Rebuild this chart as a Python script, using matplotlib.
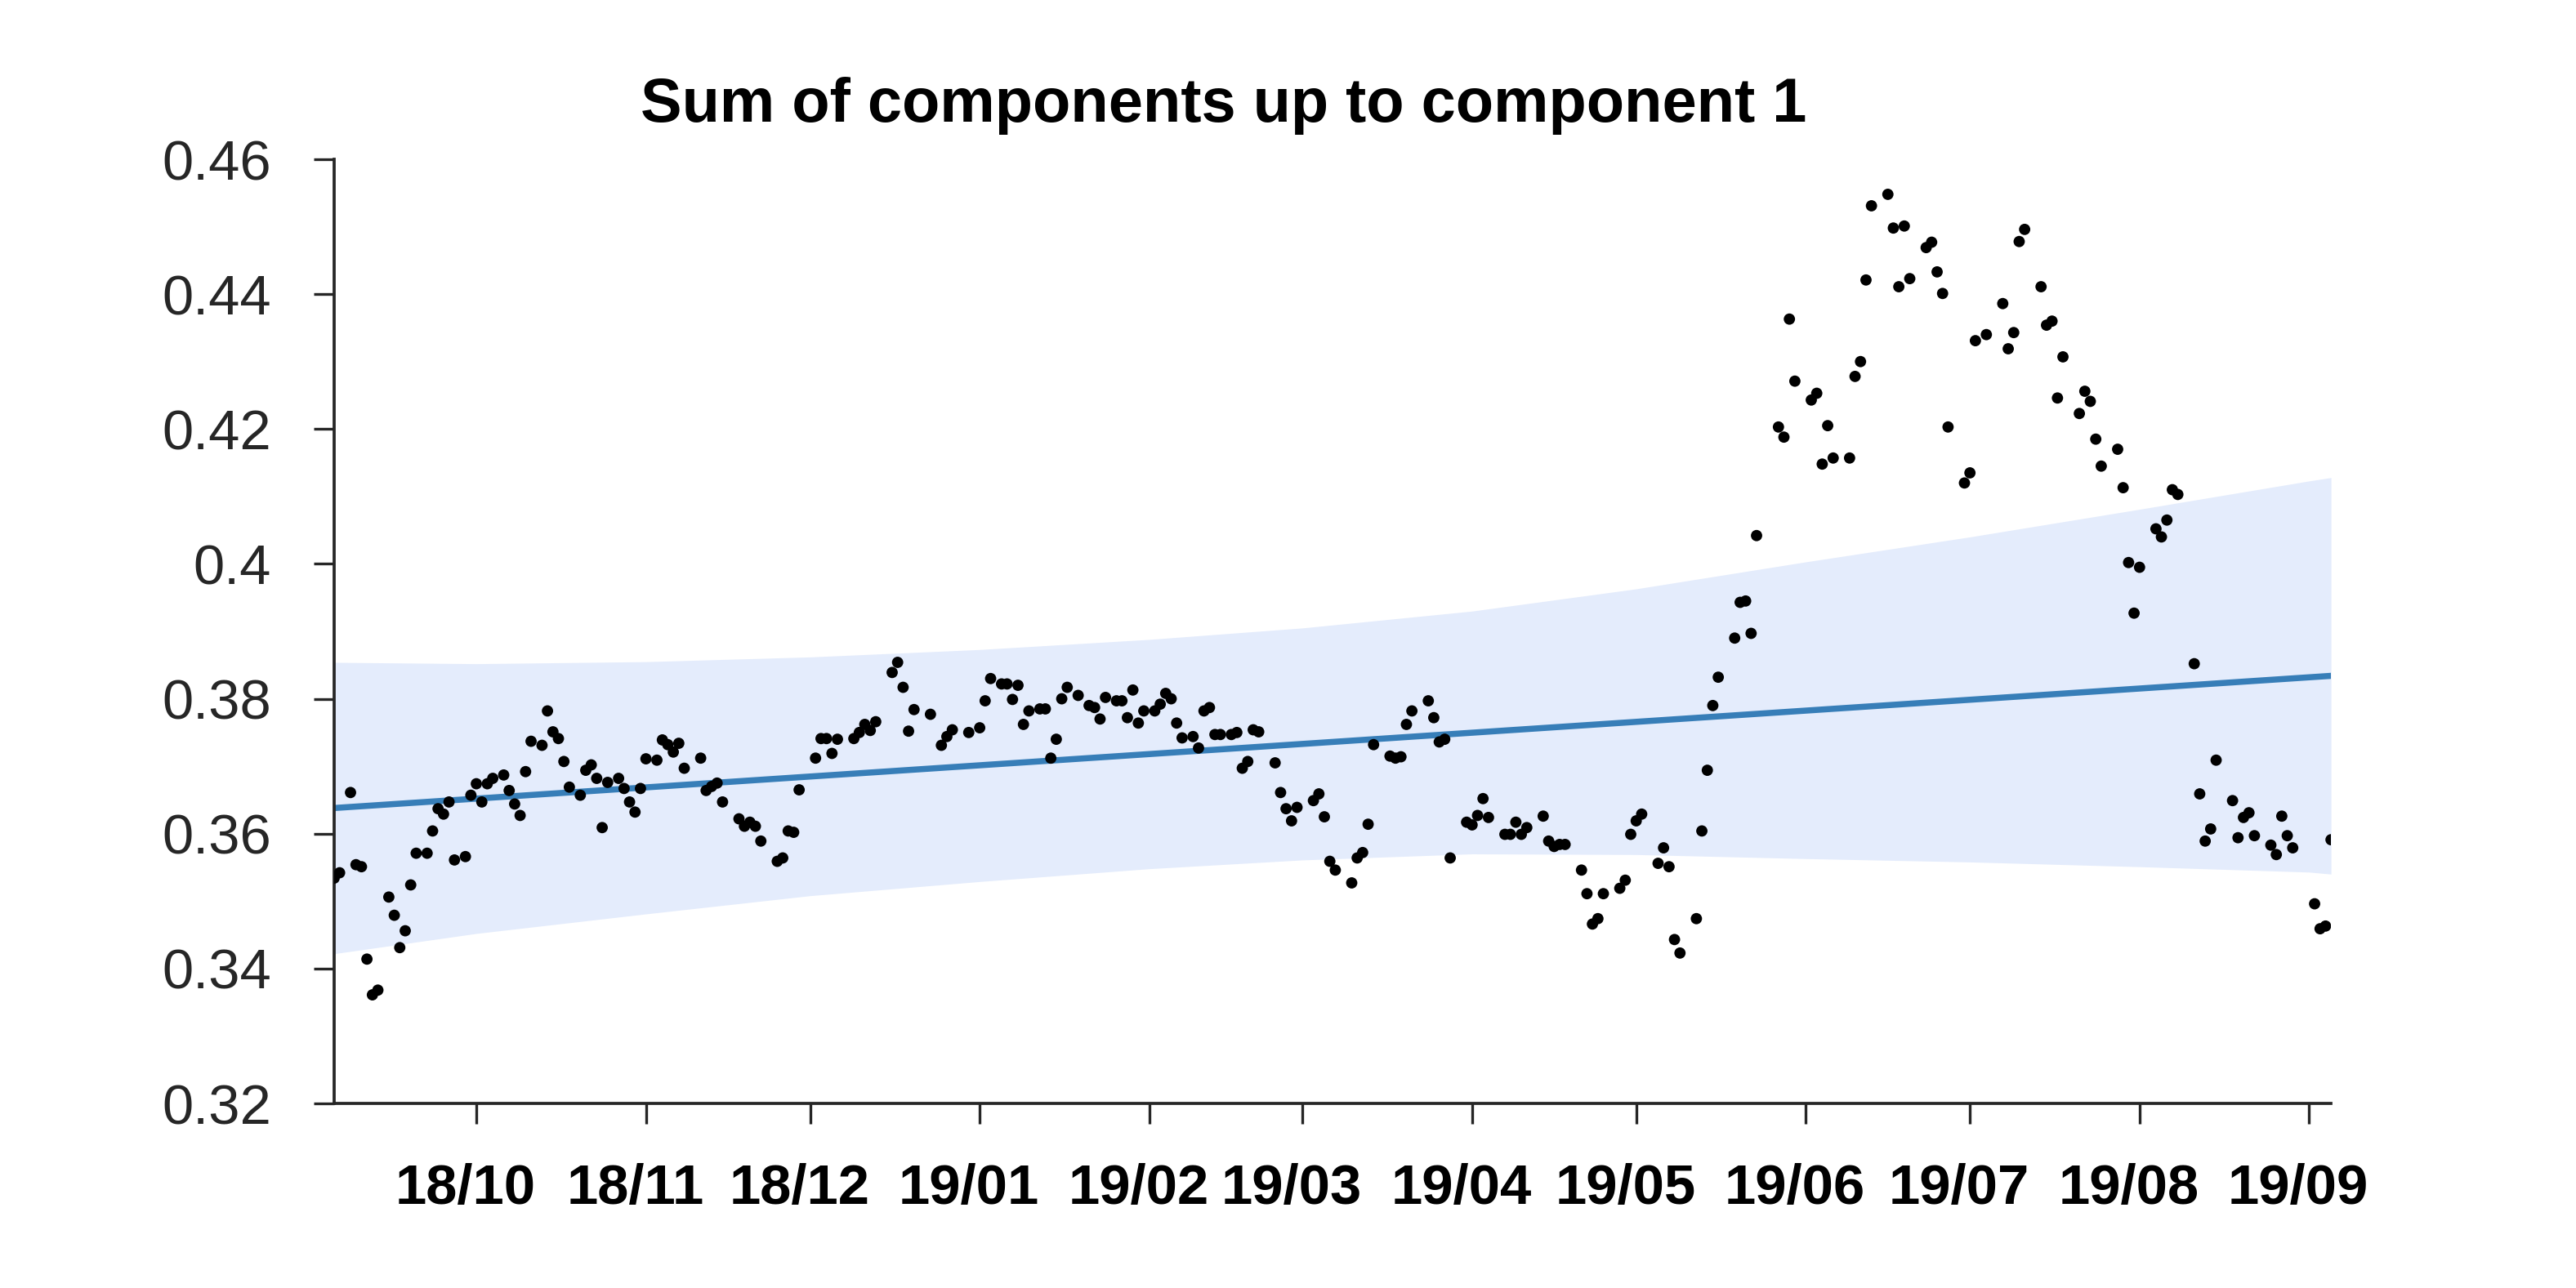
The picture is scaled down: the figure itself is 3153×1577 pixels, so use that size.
import matplotlib
matplotlib.use('Agg')
import matplotlib.pyplot as plt
import matplotlib.dates as mdates
import matplotlib.transforms as mtransforms
import numpy as np
import pandas as pd

# observed points (one per trading day)
obs_dates = [
    '2018-09-05', '2018-09-06',
    '2018-09-08', '2018-09-09', '2018-09-10', '2018-09-11', '2018-09-12', '2018-09-13',
    '2018-09-15', '2018-09-16', '2018-09-17', '2018-09-18', '2018-09-19', '2018-09-20',
    '2018-09-22', '2018-09-23', '2018-09-24', '2018-09-25', '2018-09-26', '2018-09-27',
    '2018-09-29', '2018-09-30', '2018-10-01', '2018-10-02', '2018-10-03', '2018-10-04',
    '2018-10-06', '2018-10-07', '2018-10-08', '2018-10-09', '2018-10-10', '2018-10-11',
    '2018-10-13', '2018-10-14', '2018-10-15', '2018-10-16', '2018-10-17', '2018-10-18',
    '2018-10-20', '2018-10-21', '2018-10-22', '2018-10-23', '2018-10-24', '2018-10-25',
    '2018-10-27', '2018-10-28', '2018-10-29', '2018-10-30', '2018-10-31', '2018-11-01',
    '2018-11-03', '2018-11-04', '2018-11-05', '2018-11-06', '2018-11-07', '2018-11-08',
    '2018-11-11', '2018-11-12', '2018-11-13', '2018-11-14', '2018-11-15',
    '2018-11-18', '2018-11-19', '2018-11-20', '2018-11-21', '2018-11-22',
    '2018-11-25', '2018-11-26', '2018-11-27', '2018-11-28', '2018-11-29',
    '2018-12-02', '2018-12-03', '2018-12-04', '2018-12-05', '2018-12-06',
    '2018-12-09', '2018-12-10', '2018-12-11', '2018-12-12', '2018-12-13',
    '2018-12-16', '2018-12-17', '2018-12-18', '2018-12-19', '2018-12-20',
    '2018-12-23', '2018-12-25', '2018-12-26', '2018-12-27',
    '2018-12-30', '2019-01-01', '2019-01-02', '2019-01-03',
    '2019-01-05', '2019-01-06', '2019-01-07', '2019-01-08', '2019-01-09', '2019-01-10',
    '2019-01-12', '2019-01-13', '2019-01-14', '2019-01-15', '2019-01-16', '2019-01-17',
    '2019-01-19', '2019-01-21', '2019-01-22', '2019-01-23', '2019-01-24',
    '2019-01-26', '2019-01-27', '2019-01-28', '2019-01-29', '2019-01-30', '2019-01-31',
    '2019-02-02', '2019-02-03', '2019-02-04', '2019-02-05', '2019-02-06', '2019-02-07',
    '2019-02-09', '2019-02-10', '2019-02-11', '2019-02-12', '2019-02-13', '2019-02-14',
    '2019-02-16', '2019-02-17', '2019-02-18', '2019-02-19', '2019-02-20', '2019-02-21',
    '2019-02-24', '2019-02-25', '2019-02-26', '2019-02-27', '2019-02-28',
    '2019-03-03', '2019-03-04', '2019-03-05', '2019-03-06', '2019-03-07',
    '2019-03-10', '2019-03-11', '2019-03-12', '2019-03-13', '2019-03-14',
    '2019-03-17', '2019-03-18', '2019-03-19', '2019-03-20', '2019-03-21',
    '2019-03-24', '2019-03-25', '2019-03-26', '2019-03-27', '2019-03-28',
    '2019-03-31', '2019-04-01', '2019-04-02', '2019-04-03', '2019-04-04',
    '2019-04-07', '2019-04-08', '2019-04-09', '2019-04-10', '2019-04-11',
    '2019-04-14', '2019-04-15', '2019-04-16', '2019-04-17', '2019-04-18',
    '2019-04-21', '2019-04-22', '2019-04-23', '2019-04-24', '2019-04-25',
    '2019-04-28', '2019-04-29', '2019-04-30', '2019-05-01', '2019-05-02',
    '2019-05-05', '2019-05-06', '2019-05-07', '2019-05-08', '2019-05-09',
    '2019-05-12', '2019-05-13', '2019-05-14', '2019-05-15', '2019-05-16',
    '2019-05-19', '2019-05-20', '2019-05-21', '2019-05-22', '2019-05-23',
    '2019-05-27', '2019-05-28', '2019-05-29', '2019-05-30',
    '2019-06-02', '2019-06-03', '2019-06-04', '2019-06-05', '2019-06-06',
    '2019-06-09', '2019-06-10', '2019-06-11', '2019-06-12', '2019-06-13',
    '2019-06-16', '2019-06-17', '2019-06-18', '2019-06-19', '2019-06-20',
    '2019-06-23', '2019-06-24', '2019-06-25', '2019-06-26', '2019-06-27',
    '2019-06-30', '2019-07-01', '2019-07-02', '2019-07-04',
    '2019-07-07', '2019-07-08', '2019-07-09', '2019-07-10', '2019-07-11',
    '2019-07-14', '2019-07-15', '2019-07-16', '2019-07-17', '2019-07-18',
    '2019-07-21', '2019-07-22', '2019-07-23', '2019-07-24', '2019-07-25',
    '2019-07-28', '2019-07-29', '2019-07-30', '2019-07-31', '2019-08-01',
    '2019-08-04', '2019-08-05', '2019-08-06', '2019-08-07', '2019-08-08',
    '2019-08-11', '2019-08-12', '2019-08-13', '2019-08-14', '2019-08-15',
    '2019-08-18', '2019-08-19', '2019-08-20', '2019-08-21', '2019-08-22',
    '2019-08-25', '2019-08-26', '2019-08-27', '2019-08-28', '2019-08-29',
    '2019-09-02', '2019-09-03', '2019-09-04', '2019-09-05',
]
obs_values = [
    0.3534, 0.3542,
    0.3661, 0.3554, 0.3551, 0.3414, 0.3361, 0.3368,
    0.3506, 0.3479, 0.3431, 0.3456, 0.3524, 0.3571,
    0.3571, 0.3604, 0.3637, 0.3629, 0.3647, 0.3561,
    0.3566, 0.3657, 0.3674, 0.3647, 0.3674, 0.3682,
    0.3687, 0.3664, 0.3644, 0.3627, 0.3692, 0.3737,
    0.3731, 0.3782, 0.3751, 0.3741, 0.3707, 0.3669,
    0.3657, 0.3694, 0.3702, 0.3682, 0.3609, 0.3676,
    0.3682, 0.3667, 0.3647, 0.3632, 0.3667, 0.3711,
    0.3709, 0.3739, 0.3732, 0.3721, 0.3734, 0.3697,
    0.3712, 0.3664, 0.3670, 0.3675, 0.3647,
    0.3622, 0.3611, 0.3617, 0.3611, 0.3589,
    0.3559, 0.3564, 0.3604, 0.3602, 0.3665,
    0.3712, 0.3741, 0.3741, 0.3719, 0.3740,
    0.3741, 0.3750, 0.3762, 0.3753, 0.3766,
    0.3839, 0.3854, 0.3817, 0.3752, 0.3784,
    0.3777, 0.3731, 0.3744, 0.3754,
    0.3750, 0.3757, 0.3797, 0.3830,
    0.3822, 0.3822, 0.3799, 0.3820, 0.3762, 0.3782,
    0.3785, 0.3785, 0.3712, 0.3740, 0.3800, 0.3817,
    0.3805, 0.3790, 0.3787, 0.3770, 0.3802,
    0.3797, 0.3797, 0.3772, 0.3813, 0.3764, 0.3782,
    0.3782, 0.3792, 0.3808, 0.3800, 0.3764, 0.3742,
    0.3744, 0.3727, 0.3782, 0.3787, 0.3747, 0.3747,
    0.3747, 0.3750, 0.3697, 0.3707, 0.3754, 0.3751,
    0.3705, 0.3661, 0.3637, 0.3619, 0.3639,
    0.3649, 0.3659, 0.3625, 0.3559, 0.3546,
    0.3527, 0.3564, 0.3572, 0.3614, 0.3732,
    0.3715, 0.3712, 0.3714, 0.3762, 0.3782,
    0.3797, 0.3772, 0.3736, 0.3740, 0.3564,
    0.3617, 0.3613, 0.3627, 0.3652, 0.3624,
    0.3599, 0.3599, 0.3617, 0.3599, 0.3609,
    0.3626, 0.3589, 0.3581, 0.3584, 0.3584,
    0.3546, 0.3511, 0.3466, 0.3474, 0.3511,
    0.3519, 0.3531, 0.3599, 0.3619, 0.3629,
    0.3556, 0.3579, 0.3551, 0.3443, 0.3423,
    0.3474, 0.3604, 0.3694, 0.3790, 0.3832,
    0.3890, 0.3943, 0.3945, 0.3897, 0.4042,
    0.4203, 0.4188, 0.4363, 0.4271,
    0.4243, 0.4253, 0.4148, 0.4205, 0.4157,
    0.4157, 0.4278, 0.4300, 0.4421, 0.4531,
    0.4548, 0.4498, 0.4411, 0.4501, 0.4423,
    0.4469, 0.4477, 0.4433, 0.4401, 0.4203,
    0.4120, 0.4135, 0.4331, 0.4340,
    0.4386, 0.4319, 0.4343, 0.4478, 0.4496,
    0.4411, 0.4354, 0.4360, 0.4246, 0.4307,
    0.4223, 0.4256, 0.4241, 0.4185, 0.4145,
    0.4170, 0.4113, 0.4002, 0.3927, 0.3995,
    0.4052, 0.4040, 0.4065, 0.4110, 0.4103,
    0.3852, 0.3659, 0.3589, 0.3607, 0.3709,
    0.3649, 0.3594, 0.3624, 0.3631, 0.3597,
    0.3583, 0.3569, 0.3626, 0.3597, 0.3579,
    0.3496, 0.3459, 0.3463, 0.3591,
]

# fitted trend line (end points)
trend_dates = ['2018-09-05', '2019-09-05']
trend_values = [0.3638, 0.3834]

# uncertainty band read at month starts
band_dates = ['2018-09-05', '2018-10-01', '2018-11-01', '2018-12-01', '2019-01-01',
              '2019-02-01', '2019-03-01', '2019-04-01', '2019-05-01', '2019-06-01',
              '2019-07-01', '2019-08-01', '2019-09-01', '2019-09-05']
band_upper = [0.3854, 0.3852, 0.3855, 0.3862, 0.3873, 0.3888, 0.3905,
              0.3930, 0.3963, 0.4003, 0.4040, 0.4081, 0.4123, 0.4128]
band_lower = [0.3422, 0.3452, 0.3481, 0.3508, 0.3529, 0.3548, 0.3561,
              0.3570, 0.3569, 0.3563, 0.3558, 0.3551, 0.3543, 0.3540]

y_ticks = [0.32, 0.34, 0.36, 0.38, 0.40, 0.42, 0.44, 0.46]

plt.rcParams['font.family'] = ['Liberation Sans', 'DejaVu Sans']

fig = plt.figure(figsize=(10.51, 5.257), dpi=300)
ax = fig.add_axes([0.1297, 0.1433, 0.7752, 0.733])

x_obs = pd.to_datetime(obs_dates)
x_band = pd.to_datetime(band_dates)
x_trend = pd.to_datetime(trend_dates)

ax.fill_between(x_band, band_lower, band_upper, color='#e4ecfc', linewidth=0, zorder=1)
ax.plot(x_trend, trend_values, color='#377eb8', lw=1.8, zorder=2)
ax.scatter(x_obs, obs_values, s=11, color='black', edgecolors='none', zorder=3)

ax.set_xlim(x_trend[0], x_trend[-1])
ax.set_ylim(0.32, 0.46)
ax.set_yticks(y_ticks)
ax.yaxis.set_major_formatter(plt.FuncFormatter(lambda v, p: f'{v:g}'))
ax.xaxis.set_major_locator(mdates.MonthLocator())
ax.xaxis.set_major_formatter(mdates.DateFormatter('%y/%m'))

for s in ['top', 'right']:
    ax.spines[s].set_visible(False)
for s in ['left', 'bottom']:
    ax.spines[s].set_color('#262626')
    ax.spines[s].set_linewidth(0.9)

ax.tick_params(axis='y', length=6, width=0.8, color='#262626', pad=12.5,
               labelsize=16.5, labelcolor='#262626')
ax.tick_params(axis='x', length=6, width=0.8, color='#262626', pad=11.5,
               labelsize=16.5, labelcolor='black')
shift = mtransforms.ScaledTranslation(-3.2 / 72, 0, fig.dpi_scale_trans)
for lab in ax.get_xticklabels():
    lab.set_fontweight('bold')
    lab.set_transform(lab.get_transform() + shift)

fig.text(0.475, 0.918, 'Sum of components up to component 1', ha='center', va='center',
         fontsize=18.2, fontweight='bold')

fig.savefig('out.png', dpi=300)
